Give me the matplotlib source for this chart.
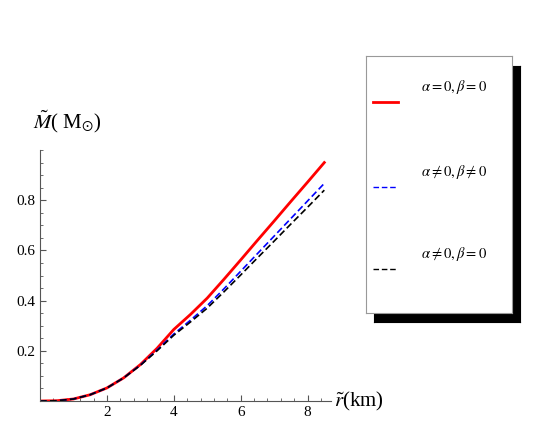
import matplotlib
matplotlib.use("Agg")
import matplotlib.pyplot as plt
from matplotlib.ticker import MultipleLocator

plt.rcParams['font.family'] = ['Liberation Serif', 'DejaVu Serif']
plt.rcParams['mathtext.fontset'] = 'stix'

r = [0, 0.5, 1, 1.5, 2, 2.5, 3, 3.5, 4, 4.5, 5, 5.5, 6, 6.5, 7, 7.5, 8, 8.5]
m_red = [0, 0.001, 0.008, 0.025, 0.052, 0.092, 0.145, 0.21, 0.285, 0.345, 0.41, 0.485, 0.562, 0.64, 0.717, 0.795, 0.872, 0.95]
m_blue = [0, 0.001, 0.008, 0.025, 0.052, 0.092, 0.143, 0.203, 0.267, 0.322, 0.38, 0.447, 0.517, 0.587, 0.657, 0.727, 0.797, 0.867]
m_black = [0, 0.001, 0.008, 0.025, 0.052, 0.092, 0.142, 0.2, 0.262, 0.315, 0.37, 0.435, 0.502, 0.57, 0.637, 0.705, 0.772, 0.84]
labels = [r'$\alpha=0,\beta=0$', r'$\alpha\neq0,\beta\neq0$', r'$\alpha\neq0,\beta=0$']

fig = plt.figure(figsize=(5.5, 4.42), dpi=100)
ax = fig.add_axes([40/550, 1-401/442, 291/550, 251/442])
ax.plot(r, m_red, color='red', lw=2)
ax.plot(r, m_blue, color='blue', lw=1.2, ls=(0, (4, 2)))
ax.plot(r, m_black, color='black', lw=1.2, ls=(0, (4, 2)))
ax.set_xlim(0, 8.7)
ax.set_ylim(0, 1.0)
for s in ['top', 'right']:
    ax.spines[s].set_visible(False)
ax.spines['left'].set_color('#555')
ax.spines['bottom'].set_color('#555')
ax.xaxis.set_minor_locator(MultipleLocator(0.4))
ax.yaxis.set_minor_locator(MultipleLocator(0.05))
ax.set_xticks([2, 4, 6, 8])
ax.set_yticks([0.2, 0.4, 0.6, 0.8])
ax.tick_params(labelsize=11, direction='in', length=4, color='#555')
ax.tick_params(which='minor', direction='in', length=2, color='#555')
ax.text(-0.2, 1.06, r'$\tilde{M}$( M$_{\odot}$)', fontsize=15, ha='left', va='bottom')
ax.text(8.8, 0.0, r'$\tilde{r}$(km)', fontsize=15, ha='left', va='center', clip_on=False)

shadow = fig.add_axes([374/550, 1-322/442, 146/550, 256/442])
shadow.set_facecolor('black'); shadow.set_xticks([]); shadow.set_yticks([])
lg = fig.add_axes([366/550, 1-313/442, 146/550, 257/442])
lg.set_xticks([]); lg.set_yticks([])
lg.set_xlim(0, 1); lg.set_ylim(0, 1)
for sp in lg.spines.values():
    sp.set_color('#999')
ys = [0.82, 0.49, 0.17]
styles = [dict(color='red', lw=2), dict(color='blue', lw=1, ls=(0, (4, 2))), dict(color='black', lw=1, ls=(0, (4, 2)))]
for y, lab, st in zip(ys, labels, styles):
    lg.plot([0.05, 0.22], [y, y], **st)
    lg.text(0.38, y + 0.06, lab, fontsize=10.5, ha='left', va='center')
fig.savefig('out.png', dpi=100)
